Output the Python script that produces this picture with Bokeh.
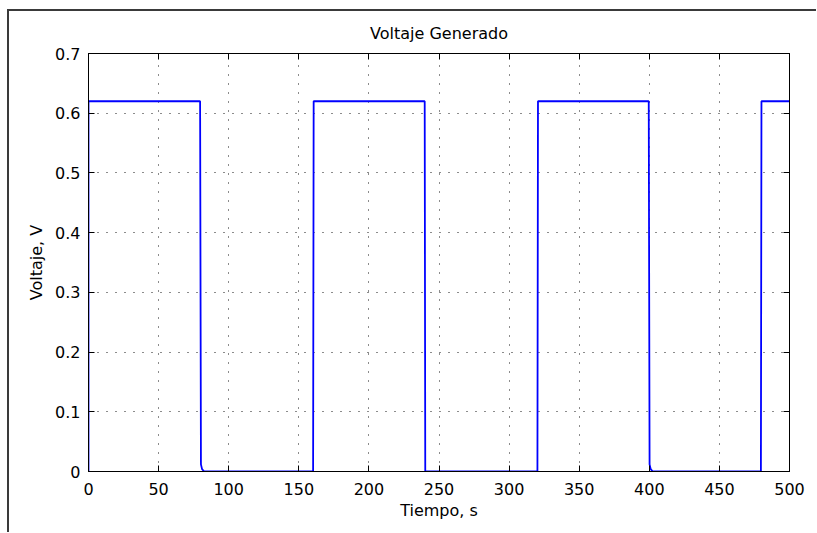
from bokeh.plotting import figure
from bokeh.models import LinearAxis, Range1d, FixedTicker
from bokeh.embed import file_html
from bokeh.resources import INLINE

# Data (square wave, period 160 s)
time_s = [0, 0, 79.6, 80.2, 81.0, 82.5, 160.2, 160.6, 239.8, 240.2, 320.2, 320.6,
          399.6, 400.2, 401.0, 402.5, 479.6, 480.0, 500]
voltage_v = [0, 0.62, 0.62, 0.012, 0.004, 0.0, 0.0, 0.62, 0.62, 0.0, 0.0, 0.62,
             0.62, 0.012, 0.004, 0.0, 0.0, 0.62, 0.62]

x_ticks = [0, 50, 100, 150, 200, 250, 300, 350, 400, 450, 500]
y_ticks = [0, 0.1, 0.2, 0.3, 0.4, 0.5, 0.6, 0.7]

title_text = "Voltaje Generado"
x_label = "Tiempo, s"
y_label = "Voltaje, V"

FONT = "DejaVu Sans"
FS = "16px"

p = figure(frame_width=701, frame_height=418, output_backend="svg", toolbar_location=None,
           x_range=Range1d(0, 500), y_range=Range1d(0, 0.7),
           min_border_left=79, min_border_right=27, min_border_top=40, min_border_bottom=61,
           title=title_text)
p.margin = (9, 0, 0, 7)
p.styles = {"border-left": "2px solid #3a3a3a", "border-top": "2px solid #3a3a3a"}
p.background_fill_color = "white"
p.border_fill_color = "white"
p.outline_line_color = "black"
p.outline_line_width = 1

p.title.align = "center"
p.title.text_font = FONT
p.title.text_font_size = FS
p.title.text_font_style = "normal"
p.title.text_color = "black"
p.title.standoff = 21

def style_axis(ax, ticks, show_labels, standoff=6):
    ax.ticker = FixedTicker(ticks=ticks)
    ax.axis_line_color = "black"
    ax.major_tick_line_color = "black"
    ax.major_tick_in = 6
    ax.major_tick_out = 0
    ax.minor_tick_line_color = None
    ax.major_label_text_font = FONT
    ax.major_label_text_color = "black"
    if show_labels:
        ax.major_label_text_font_size = FS
        ax.major_label_standoff = standoff
    else:
        ax.major_label_text_font_size = "0px"
        ax.major_label_standoff = 0

style_axis(p.xaxis[0], x_ticks, True, 11)
style_axis(p.yaxis[0], y_ticks, True, 8)
p.xaxis[0].axis_label = x_label
p.yaxis[0].axis_label = y_label
for ax in (p.xaxis[0], p.yaxis[0]):
    ax.axis_label_text_font = FONT
    ax.axis_label_text_font_size = FS
    ax.axis_label_text_font_style = "normal"
    ax.axis_label_text_color = "black"
p.xaxis[0].axis_label_standoff = 3
p.yaxis[0].axis_label_standoff = 6

top_ax = LinearAxis()
style_axis(top_ax, x_ticks, False)
p.add_layout(top_ax, "above")
right_ax = LinearAxis()
style_axis(right_ax, y_ticks, False)
p.add_layout(right_ax, "right")

for g, t in ((p.xgrid[0], x_ticks), (p.ygrid[0], y_ticks)):
    g.ticker = FixedTicker(ticks=t)
    g.grid_line_color = "black"
    g.grid_line_dash = "1 8"
    g.grid_line_width = 1
    g.grid_line_alpha = 0.9

p.line(time_s, voltage_v, line_color="#0000FF", line_width=1.8)

open("out.html", "w").write(file_html(p, INLINE))
